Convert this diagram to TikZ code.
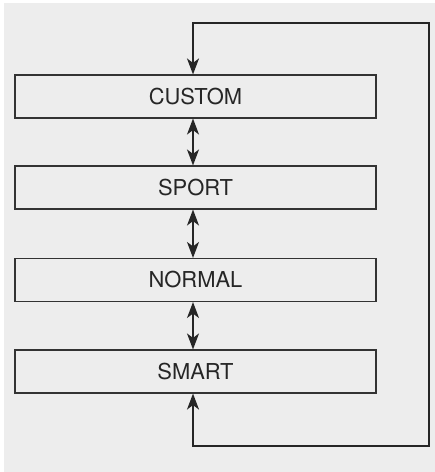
\documentclass[tikz,border=0pt]{standalone}
\usepackage{fontspec}
\setmainfont{TeX Gyre Heros}
\usepackage{xcolor}
\usetikzlibrary{arrows.meta, positioning, calc}

\definecolor{bggray}{HTML}{EDEDED}
\definecolor{linegray}{HTML}{333333}

\begin{document}
\begin{tikzpicture}[
    x=1bp, y=-1bp,
    modebox/.style={draw=linegray, line width=1.1bp, rectangle, minimum height=43bp,
      minimum width=361bp, inner sep=0pt, align=center,
      font=\fontsize{22}{26}\selectfont, text=black!85},
    dblarrow/.style={line width=1.6bp, draw=black!85, <->,
      >={Stealth[length=16bp, width=12bp, inset=4.5bp]}},
    loopline/.style={line width=2bp, draw=black!85, <->,
      >={Stealth[length=16bp, width=12bp, inset=4.5bp]}}
]
\useasboundingbox (0,0) rectangle (435,472);
\fill[bggray] (4,3) rectangle (435,472);

% Driving modes
\node[modebox] (custom) at (195.5, 96.5) {CUSTOM};
\node[modebox] (sport) at (195.5, 187.5) {SPORT};
\node[modebox] (normal) at (195.5, 280) {NORMAL};
\node[modebox] (smart) at (195.5, 371.5) {SMART};

% Loop corners
\coordinate (topleft) at (193, 23);
\coordinate (topright) at (429, 23);
\coordinate (botright) at (429, 446);
\coordinate (botleft) at (193, 446);

% Arrows
\draw[dblarrow] (custom.south -| topleft) -- (sport.north -| topleft);
\draw[dblarrow] (sport.south -| topleft) -- (normal.north -| topleft);
\draw[dblarrow] (normal.south -| topleft) -- (smart.north -| topleft);
\draw[loopline] (smart.south -| botleft) -- (botleft) -- (botright)
  -- (topright) -- (topleft) -- (custom.north -| topleft);

\end{tikzpicture}
\end{document}
